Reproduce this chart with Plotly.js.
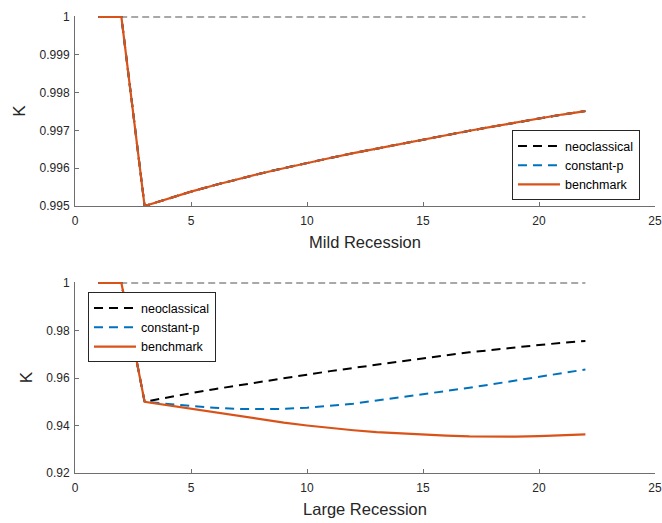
<!DOCTYPE html>
<html>
<head>
<meta charset="utf-8">
<script src="https://cdn.plot.ly/plotly-3.0.1.min.js"></script>
<style>html,body{margin:0;padding:0;background:#fff;}#chart{width:662px;height:523px;}</style>
</head>
<body>
<div id="chart"></div>
<script>
// x positions (periods)
const periods = [1,2,3,4,5,6,7,8,9,10,11,12,13,14,15,16,17,18,19,20,21,22];
const steadyX = [1, 22];
const steadyY = [1, 1];

// Mild recession (all three models essentially coincide)
const mildNeoclassical = [1,1,0.99500,0.99520,0.99538,0.99555,0.99571,0.99586,0.99600,0.99614,0.99627,0.99640,0.99652,0.99664,0.99676,0.99688,0.99699,0.99710,0.99721,0.99732,0.99742,0.99751];
const mildConstantP   = [1,1,0.99500,0.99520,0.99538,0.99555,0.99571,0.99586,0.99600,0.99614,0.99627,0.99640,0.99652,0.99664,0.99676,0.99688,0.99699,0.99710,0.99721,0.99732,0.99742,0.99751];
const mildBenchmark   = [1,1,0.99500,0.99520,0.99538,0.99555,0.99571,0.99586,0.99600,0.99614,0.99627,0.99640,0.99652,0.99664,0.99676,0.99688,0.99699,0.99710,0.99721,0.99732,0.99742,0.99751];

// Large recession
const largeNeoclassical = [1,1,0.9500,0.9519,0.9536,0.9553,0.9569,0.9585,0.9599,0.9614,0.9629,0.9643,0.9657,0.9670,0.9683,0.9696,0.9708,0.9719,0.9729,0.9739,0.9748,0.9756];
const largeConstantP   = [1,1,0.9500,0.9490,0.9482,0.9475,0.9470,0.9469,0.9470,0.9475,0.9482,0.9492,0.9505,0.9518,0.9532,0.9546,0.9559,0.9574,0.9590,0.9606,0.9622,0.9636];
const largeBenchmark   = [1,1,0.9500,0.9485,0.9470,0.9455,0.9440,0.9425,0.9412,0.9400,0.9389,0.9380,0.9372,0.9366,0.9361,0.9357,0.9354,0.9353,0.9353,0.9355,0.9358,0.9363];

const seriesNames = ['neoclassical', 'constant-p', 'benchmark'];
const xTicks = [0,5,10,15,20,25];
const mildYTicks = [0.995,0.996,0.997,0.998,0.999,1];
const mildYLabels = ['0.995','0.996','0.997','0.998','0.999','1'];
const largeYTicks = [0.92,0.94,0.96,0.98,1];
const largeYLabels = ['0.92','0.94','0.96','0.98','1'];

const FONT = 'Liberation Sans, Arial, Helvetica, sans-serif';
const TXT = '#262626';
const AX = '#6f6f6f';

function refLine(xa, ya) {
  return {x: steadyX, y: steadyY, xaxis: xa, yaxis: ya, mode: 'lines', showlegend: false,
    hoverinfo: 'skip', line: {color: '#8c8c8c', width: 1.3, dash: '7px,4px'}};
}
function series(xa, ya, y, idx, leg) {
  const styles = [
    {color: '#000000', width: 2, dash: '9px,6px'},
    {color: '#0072BD', width: 2, dash: '9px,6px'},
    {color: '#D95319', width: 2.2, dash: 'solid'}
  ];
  return {x: periods, y: y, xaxis: xa, yaxis: ya, mode: 'lines', name: seriesNames[idx],
    legend: leg, line: styles[idx]};
}

const data = [
  refLine('x', 'y'),
  series('x', 'y', mildNeoclassical, 0, 'legend'),
  series('x', 'y', mildConstantP, 1, 'legend'),
  series('x', 'y', mildBenchmark, 2, 'legend'),
  refLine('x2', 'y2'),
  series('x2', 'y2', largeNeoclassical, 0, 'legend2'),
  series('x2', 'y2', largeConstantP, 1, 'legend2'),
  series('x2', 'y2', largeBenchmark, 2, 'legend2')
];

function xAxis(title, anchor) {
  return {
    anchor: anchor, domain: [0, 1], range: [0, 25], tickvals: xTicks,
    ticks: 'inside', ticklen: 4, tickcolor: AX, tickwidth: 1,
    showline: true, linecolor: AX, linewidth: 1, showgrid: false, zeroline: false,
    tickfont: {family: FONT, size: 12, color: TXT}, ticklabelstandoff: 4,
    title: {text: title, font: {family: FONT, size: 16.5, color: TXT}, standoff: 9},
    automargin: false
  };
}
function yAxis(domain, range, vals, labels, anchor) {
  return {
    anchor: anchor, domain: domain, range: range, tickvals: vals, ticktext: labels,
    ticks: 'inside', ticklen: 4, tickcolor: AX, tickwidth: 1,
    showline: true, linecolor: AX, linewidth: 1, showgrid: false, zeroline: false,
    tickfont: {family: FONT, size: 12, color: TXT}, ticklabelstandoff: 2,
    title: {text: 'K', font: {family: FONT, size: 17, color: TXT}, standoff: 9},
    automargin: false
  };
}

function legendBox(x, y) {
  return {x: x, y: y, xanchor: 'left', yanchor: 'top',
    bgcolor: '#ffffff', bordercolor: '#262626', borderwidth: 1, itemwidth: 42,
    font: {family: FONT, size: 12.5, color: '#000'}, traceorder: 'normal', tracegroupgap: 0};
}

const layout = {
  width: 662, height: 523,
  margin: {l: 75, r: 7, t: 16, b: 50},
  paper_bgcolor: '#ffffff', plot_bgcolor: '#ffffff',
  font: {family: FONT, color: TXT},
  xaxis: xAxis('Mild Recession', 'y'),
  yaxis: yAxis([0.5842, 1], [0.995, 1.0000265], mildYTicks, mildYLabels, 'x'),
  xaxis2: xAxis('Large Recession', 'y2'),
  yaxis2: yAxis([0, 0.4179], [0.92, 1.00042], largeYTicks, largeYLabels, 'x2'),
  legend: legendBox(0.7534, 0.7500),
  legend2: legendBox(0.0224, 0.3950),
  showlegend: true
};

Plotly.newPlot('chart', data, layout, {displayModeBar: false, staticPlot: true});
</script>
</body>
</html>
